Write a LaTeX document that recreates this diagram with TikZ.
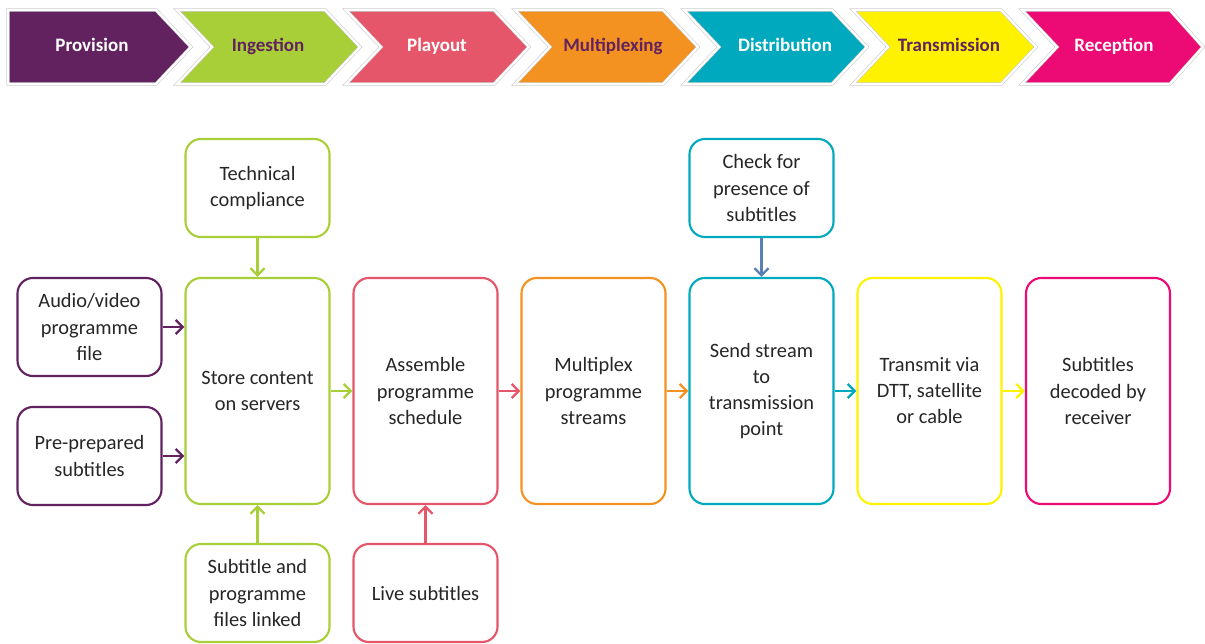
\documentclass[tikz,border=0pt]{standalone}
\usepackage{fontspec}
\setmainfont{Carlito}
\usepackage{tikz}
\usetikzlibrary{arrows.meta}
\definecolor{prov}{HTML}{62225F}
\definecolor{inge}{HTML}{A8CF38}
\definecolor{play}{HTML}{E5566A}
\definecolor{mplx}{HTML}{F39220}
\definecolor{dist}{HTML}{00A9BD}
\definecolor{tran}{HTML}{FFF200}
\definecolor{recp}{HTML}{EC0B74}
\definecolor{chk}{HTML}{5B7FB5}
\definecolor{txt}{HTML}{262626}

\begin{document}
\begin{tikzpicture}[x=0.025cm,y=-0.025cm,
	stage/.style={draw=black!22, double=white, double distance=1.6pt, fill=#1},
	stagetext/.style={font=\fontsize{13.5}{16}\selectfont\bfseries, text=#1, text height=9pt, text depth=3pt},
	box/.style={draw=#1, line width=1.5pt, rounded corners=11pt, fill=white, align=center, text=txt,
		font=\fontsize{14.5}{18.5}\selectfont, minimum width=3.6cm, inner sep=2pt},
	tall/.style={minimum height=5.65cm},
	short/.style={minimum height=2.45cm},
	arr/.style={draw=#1, line width=1.7pt, -{Straight Barb[length=5pt,width=10pt]}}]
	\useasboundingbox (0,0) rectangle (1205,644);
	% stages along the top
	\draw[stage=prov] (8,10) -- (156,10) -- (191,47) -- (156,84) -- (8,84) -- cycle;
	\node[stagetext=white] (sprov) at (92,47) {Provision};
	\draw[stage=inge] (177,10) -- (325,10) -- (360,47) -- (325,84) -- (177,84) -- (212,47) -- cycle;
	\node[stagetext=prov] (singe) at (268,47) {Ingestion};
	\draw[stage=play] (346,10) -- (494,10) -- (529,47) -- (494,84) -- (346,84) -- (381,47) -- cycle;
	\node[stagetext=white] (splay) at (437,47) {Playout};
	\draw[stage=mplx] (515,10) -- (663,10) -- (698,47) -- (663,84) -- (515,84) -- (550,47) -- cycle;
	\node[stagetext=prov] (smplx) at (613,47) {Multiplexing};
	\draw[stage=dist] (684,10) -- (832,10) -- (867,47) -- (832,84) -- (684,84) -- (719,47) -- cycle;
	\node[stagetext=white] (sdist) at (785,47) {Distribution};
	\draw[stage=tran] (853,10) -- (1001,10) -- (1036,47) -- (1001,84) -- (853,84) -- (888,47) -- cycle;
	\node[stagetext=prov] (stran) at (949,47) {Transmission};
	\draw[stage=recp] (1022,10) -- (1170,10) -- (1203,47) -- (1170,84) -- (1022,84) -- (1057,47) -- cycle;
	\node[stagetext=white] (srecp) at (1114,47) {Reception};

	% main row
	\node[box=prov, short] (av) at (89.5,327) {Audio/video\\programme\\file};
	\node[box=prov, short] (prep) at (89.5,456) {Pre-prepared\\subtitles};
	\node[box=inge, tall] (store) at (257.5,391) {Store content\\on servers};
	\node[box=play, tall] (sched) at (425.5,391) {Assemble\\programme\\schedule};
	\node[box=mplx, tall] (streams) at (593.5,391) {Multiplex\\programme\\streams};
	\node[box=dist, tall] (send) at (761.5,391) {Send stream\\to\\transmission\\point};
	\node[box=tran, tall] (dtt) at (929.5,391) {Transmit via\\DTT, satellite\\or cable};
	\node[box=recp, tall] (rcv) at (1098,391) {Subtitles\\decoded by\\receiver};
	\node[box=inge, short] (tech) at (257.5,188) {Technical\\compliance};
	\node[box=dist, short] (check) at (761.5,188) {Check for\\presence of\\subtitles};
	\node[box=inge, short] (linked) at (257.5,593) {Subtitle and\\programme\\files linked};
	\node[box=play, short] (live) at (425.5,593) {Live subtitles};

	\draw[arr=prov] (av.east) -- (av.east -| store.west);
	\draw[arr=prov] (prep.east) -- (prep.east -| store.west);
	\draw[arr=inge] (tech) -- (store);
	\draw[arr=inge] (linked) -- (store);
	\draw[arr=inge] (store) -- (sched);
	\draw[arr=play] (live) -- (sched);
	\draw[arr=play] (sched) -- (streams);
	\draw[arr=mplx] (streams) -- (send);
	\draw[arr=chk] (check) -- (send);
	\draw[arr=dist] (send) -- (dtt);
	\draw[arr=tran] (dtt) -- (rcv);
\end{tikzpicture}
\end{document}
